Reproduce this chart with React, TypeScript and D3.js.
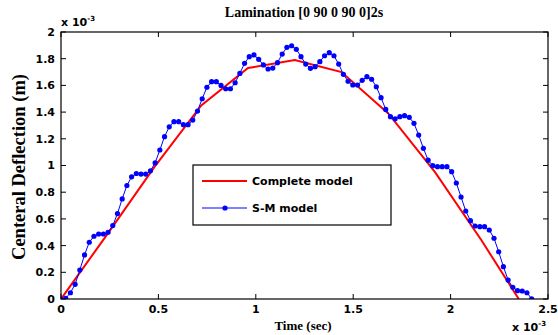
import React from "react";
import * as d3 from "d3";

const TITLE = "Lamination [0 90 0 90 0]2s";
const X_LABEL = "Time (sec)";
const Y_LABEL = "Centeral Deflection (m)";
const X_TICKS = [0, 0.5, 1, 1.5, 2, 2.5];
const Y_TICKS = [0, 0.2, 0.4, 0.6, 0.8, 1, 1.2, 1.4, 1.6, 1.8, 2];

// Complete model (x 1e-3 s, x 1e-3 m)
const completeT = [0, 0.24, 0.48, 0.72, 0.96, 1.2, 1.44, 1.68, 1.92, 2.16, 2.35];
const completeV = [0, 0.49, 0.99, 1.45, 1.73, 1.79, 1.7, 1.39, 0.95, 0.436, 0];

// S-M model sampled on uniform time step
const SM_DT = 0.02416;
const smV = [
  0, 0.005, 0.047, 0.11, 0.217, 0.33, 0.425, 0.47, 0.487, 0.487,
  0.5, 0.55, 0.64, 0.75, 0.85, 0.915, 0.94, 0.936, 0.936, 0.96,
  1.02, 1.116, 1.216, 1.29, 1.328, 1.328, 1.306, 1.306, 1.34, 1.408,
  1.5, 1.586, 1.628, 1.628, 1.6, 1.575, 1.575, 1.62, 1.69, 1.765,
  1.815, 1.828, 1.795, 1.753, 1.723, 1.73, 1.77, 1.835, 1.885, 1.897,
  1.87, 1.815, 1.76, 1.728, 1.74, 1.778, 1.822, 1.845, 1.822, 1.76,
  1.683, 1.631, 1.603, 1.603, 1.638, 1.665, 1.646, 1.59, 1.508, 1.42,
  1.366, 1.35, 1.366, 1.373, 1.361, 1.316, 1.228, 1.129, 1.04, 0.999,
  0.991, 0.991, 0.991, 0.954, 0.869, 0.764, 0.659, 0.587, 0.547, 0.542,
  0.542, 0.517, 0.455, 0.354, 0.242, 0.142, 0.088, 0.062, 0.06, 0.047,
  0.002,
];

const LEGEND = ["Complete model", "S-M model"];

export default function App() {
  const W = 558, H = 335;
  const L = 61, R = 548, T = 32, B = 299;
  const x = d3.scaleLinear().domain([0, 2.5]).range([L, R]);
  const y = d3.scaleLinear().domain([0, 2]).range([B, T]);

  const completePts: [number, number][] = completeT.map((t, i) => [t, completeV[i]]);
  const smPts: [number, number][] = smV.map((v, i) => [i * SM_DT, v]);
  const line = d3.line<[number, number]>().x(d => x(d[0])).y(d => y(d[1]));

  const tickFont = { fontFamily: "DejaVu Sans", fontWeight: 700, fontSize: 11 } as const;
  const serif = { fontFamily: "Liberation Serif", fontWeight: 700 } as const;
  const tl = 5;

  return (
    <svg width={W} height={H} style={{ position: "absolute", left: 0, top: 0, background: "#fff" }}>
      <rect x={0} y={0} width={W} height={H} fill="#fff" />
      <defs>
        <clipPath id="plotclip">
          <rect x={L} y={T} width={R - L} height={B - T} />
        </clipPath>
      </defs>
      {/* ticks */}
      {X_TICKS.map(t => (
        <g key={"xt" + t}>
          <line x1={x(t)} x2={x(t)} y1={B} y2={B - tl} stroke="#000" strokeWidth={1} />
          <line x1={x(t)} x2={x(t)} y1={T} y2={T + tl} stroke="#000" strokeWidth={1} />
          <text x={x(t)} y={313} textAnchor="middle" {...tickFont}>{t}</text>
        </g>
      ))}
      {Y_TICKS.map(t => (
        <g key={"yt" + t}>
          <line x1={L} x2={L + tl} y1={y(t)} y2={y(t)} stroke="#000" strokeWidth={1} />
          <line x1={R} x2={R - tl} y1={y(t)} y2={y(t)} stroke="#000" strokeWidth={1} />
          <text x={55} y={y(t)} dy="0.36em" textAnchor="end" {...tickFont}>{t}</text>
        </g>
      ))}
      {/* data */}
      <g clipPath="url(#plotclip)">
        <path d={line(completePts) || ""} fill="none" stroke="#ff0000" strokeWidth={2} />
        <path d={line(smPts) || ""} fill="none" stroke="#0000ff" strokeWidth={1} />
        {smPts.map((p, i) => (
          <circle key={i} cx={x(p[0])} cy={y(p[1])} r={2.6} fill="#0000ff" />
        ))}
      </g>
      {/* frame */}
      <rect x={L} y={T} width={R - L} height={B - T} fill="none" stroke="#000" strokeWidth={1.2} />
      {/* exponent labels */}
      <text x={61} y={26} {...tickFont}>x 10<tspan dy={-5} fontSize={7}>-3</tspan></text>
      <text x={512} y={331} {...tickFont}>x 10<tspan dy={-5} fontSize={7}>-3</tspan></text>
      {/* title & labels */}
      <text x={304} y={17} textAnchor="middle" fontSize={14} {...serif}>{TITLE}</text>
      <text x={303} y={330} textAnchor="middle" fontSize={13} {...serif}>{X_LABEL}</text>
      <text transform={`translate(25,167) rotate(-90)`} textAnchor="middle" fontSize={18.5} {...serif}>{Y_LABEL}</text>
      {/* legend */}
      <rect x={193} y={165} width={198} height={60} fill="#fff" stroke="#000" strokeWidth={1.2} />
      <line x1={202} x2={247} y1={181} y2={181} stroke="#ff0000" strokeWidth={2} />
      <text x={252} y={181} dy="0.36em" {...tickFont}>{LEGEND[0]}</text>
      <line x1={202} x2={247} y1={208} y2={208} stroke="#0000ff" strokeWidth={1} />
      <circle cx={225} cy={208} r={2.6} fill="#0000ff" />
      <text x={252} y={208} dy="0.36em" {...tickFont}>{LEGEND[1]}</text>
    </svg>
  );
}
